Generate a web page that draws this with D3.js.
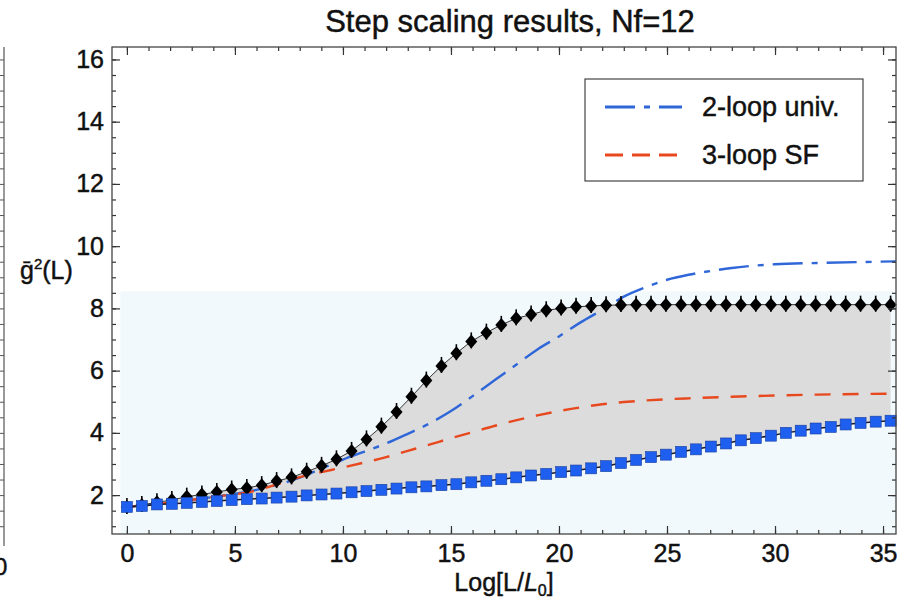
<!DOCTYPE html>
<html>
<head>
<meta charset="utf-8">
<script src="https://cdn.jsdelivr.net/npm/d3@7"></script>
<style>
  body { margin: 0; background: #fff; }
  text { font-family: "Liberation Sans", Arial, sans-serif; fill: #111; stroke: #111; stroke-width: 0.45px; }
</style>
</head>
<body>
<div id="chart"></div>
<script>
// step scaling data, Nf=12
var logL = [0, 0.69, 1.39, 2.08, 2.77, 3.47, 4.16, 4.85, 5.55, 6.24, 6.93, 7.62, 8.32, 9.01, 9.70,
  10.40, 11.09, 11.78, 12.48, 13.17, 13.86, 14.56, 15.25, 15.94, 16.64, 17.33, 18.02, 18.71, 19.41,
  20.10, 20.79, 21.49, 22.18, 22.87, 23.57, 24.26, 24.95, 25.65, 26.34, 27.03, 27.73, 28.42, 29.11,
  29.81, 30.50, 31.19, 31.88, 32.58, 33.27, 33.96, 34.66, 35.35];

// upper branch (black diamonds)
var upperG2 = [1.62, 1.68, 1.77, 1.84, 1.95, 2.02, 2.10, 2.18, 2.23, 2.32, 2.45, 2.57, 2.75, 2.94, 3.15,
  3.42, 3.79, 4.20, 4.67, 5.16, 5.68, 6.15, 6.56, 6.94, 7.22, 7.47, 7.68, 7.80, 7.94, 8.00, 8.05, 8.08,
  8.10, 8.11, 8.12, 8.12, 8.12, 8.12, 8.12, 8.12, 8.12, 8.12, 8.12, 8.12, 8.12, 8.12, 8.12, 8.12, 8.12,
  8.12, 8.12, 8.12];

// lower branch (blue squares)
var lowerG2 = [1.62, 1.65, 1.70, 1.72, 1.75, 1.78, 1.81, 1.84, 1.87, 1.89, 1.92, 1.95, 1.99, 2.02, 2.05,
  2.09, 2.13, 2.17, 2.21, 2.25, 2.28, 2.32, 2.35, 2.41, 2.46, 2.51, 2.57, 2.63, 2.68, 2.74, 2.79, 2.86,
  2.93, 3.03, 3.13, 3.22, 3.30, 3.39, 3.47, 3.56, 3.66, 3.76, 3.83, 3.91, 4.00, 4.07, 4.14, 4.19, 4.27,
  4.32, 4.36, 4.39];

// 2-loop universal curve
var twoLoopX = [0, 2, 4, 6, 8, 9, 10, 11, 12, 13, 14, 15, 16, 17, 18, 19, 20, 21, 22, 23, 24, 25, 26,
  27, 28, 29, 30, 32, 34, 35.6];
var twoLoopY = [1.62, 1.76, 1.94, 2.17, 2.56, 2.85, 3.14, 3.40, 3.66, 3.97, 4.30, 4.70, 5.18, 5.68,
  6.18, 6.68, 7.10, 7.55, 7.95, 8.38, 8.68, 8.92, 9.08, 9.20, 9.30, 9.37, 9.42, 9.46, 9.49, 9.51];

// 3-loop SF curve
var threeLoopX = [0, 2, 4, 6, 7, 8, 9, 10, 11, 12, 13, 14, 15, 16, 17, 18, 19, 20, 21, 22, 23, 24,
  25, 26, 28, 30, 32, 35.6];
var threeLoopY = [1.62, 1.76, 1.94, 2.15, 2.36, 2.58, 2.74, 2.89, 3.05, 3.22, 3.42, 3.62, 3.83, 4.02,
  4.22, 4.40, 4.56, 4.70, 4.82, 4.92, 4.99, 5.04, 5.08, 5.11, 5.16, 5.20, 5.23, 5.26];

// pale blue band behind the data
var bandX = [-0.3, 35.6];
var bandY = [0.75, 8.55];

var xTickLabels = [0, 5, 10, 15, 20, 25, 30, 35];
var yTickLabels = [2, 4, 6, 8, 10, 12, 14, 16];
var legendNames = ["2-loop univ.", "3-loop SF"];

//---------------------------------------------------------------------------//

var svgWidth = 910, svgHeight = 599;
var frame = { left: 112, right: 896, top: 47, bottom: 534 };

var svg = d3.select("#chart").append("svg")
  .attr("width", svgWidth)
  .attr("height", svgHeight);

var x = d3.scaleLinear().domain([-0.69, 35.6]).range([frame.left, frame.right]);
var y = d3.scaleLinear().domain([0.75, 16.4]).range([frame.bottom, frame.top]);

// piece of the neighbouring panel on the far left
var nb = svg.append("g").attr("transform", "translate(4,0)");
nb.append("line").attr("x1", 0).attr("x2", 0).attr("y1", 47).attr("y2", 546)
  .attr("stroke", "#555").attr("stroke-width", 1.2);
nb.call(d3.axisLeft(y).tickValues(d3.range(1, 16.5, 0.5)).tickSize(5).tickFormat(""))
  .call(g => g.select(".domain").remove())
  .selectAll("line").attr("stroke", "#555");
svg.append("text").attr("x", -6).attr("y", 575).style("font-size", "24px").text("0");

// background band
svg.append("rect")
  .attr("x", x(bandX[0])).attr("width", x(bandX[1]) - x(bandX[0]))
  .attr("y", y(bandY[1])).attr("height", y(bandY[0]) - y(bandY[1]))
  .attr("fill", "#f1f9fd");

// grey band between the two branches
var pts = logL.map((d, i) => ({ x: d, hi: upperG2[i], lo: lowerG2[i] }));
svg.append("path").datum(pts)
  .attr("fill", "#dcdcdc")
  .attr("d", d3.area().x(d => x(d.x)).y0(d => y(d.lo)).y1(d => y(d.hi)));

// theory curves
var line = d3.line().curve(d3.curveMonotoneX).x(d => x(d[0])).y(d => y(d[1]));
svg.append("path").datum(twoLoopX.map((d, i) => [d, twoLoopY[i]]))
  .attr("fill", "none").attr("stroke", "#2f66d8").attr("stroke-width", 2.4)
  .attr("stroke-dasharray", "30,9,6,9")
  .attr("d", line);
svg.append("path").datum(threeLoopX.map((d, i) => [d, threeLoopY[i]]))
  .attr("fill", "none").attr("stroke", "#e8481e").attr("stroke-width", 2.4)
  .attr("stroke-dasharray", "16,12")
  .attr("d", line);

// upper branch: thin line, error bars, diamonds
var linePts = d3.line().x(d => x(d.x)).y(d => y(d.v));
svg.append("path").datum(pts.map(d => ({ x: d.x, v: d.hi })))
  .attr("fill", "none").attr("stroke", "#333").attr("stroke-width", 1)
  .attr("d", linePts);
var dia = svg.append("g").selectAll("g").data(pts).enter().append("g")
  .attr("transform", d => `translate(${x(d.x)},${y(d.hi)})`);
dia.append("line").attr("y1", -9).attr("y2", 7).attr("stroke", "#000").attr("stroke-width", 1.6);
dia.append("path").attr("d", "M0,-7L6,0L0,7L-6,0Z").attr("fill", "#000");

// lower branch: line and squares
svg.append("path").datum(pts.map(d => ({ x: d.x, v: d.lo })))
  .attr("fill", "none").attr("stroke", "#1a1a2a").attr("stroke-width", 1.5)
  .attr("d", linePts);
svg.append("g").selectAll("rect").data(pts).enter().append("rect")
  .attr("x", d => x(d.x) - 5.5).attr("y", d => y(d.lo) - 5.5)
  .attr("width", 11).attr("height", 11)
  .attr("fill", "#1f5ff0").attr("stroke", "#1a3f9c").attr("stroke-width", 0.6);

// frame with inward ticks on all four sides
function styleAxis(g) {
  g.select(".domain").remove();
  g.selectAll("line").attr("stroke", "#333").attr("stroke-width", 1.2);
}
var xMinor = d3.range(0, 36, 1);
var yMinor = d3.range(1, 16.5, 0.5);
svg.append("g").attr("transform", `translate(0,${frame.bottom})`)
  .call(d3.axisBottom(x).tickValues(xMinor).tickSize(-4).tickFormat("")).call(styleAxis);
svg.append("g").attr("transform", `translate(0,${frame.top})`)
  .call(d3.axisTop(x).tickValues(xMinor).tickSize(-4).tickFormat("")).call(styleAxis);
svg.append("g").attr("transform", `translate(${frame.left},0)`)
  .call(d3.axisLeft(y).tickValues(yMinor).tickSize(-4).tickFormat("")).call(styleAxis);
svg.append("g").attr("transform", `translate(${frame.right},0)`)
  .call(d3.axisRight(y).tickValues(yMinor).tickSize(-4).tickFormat("")).call(styleAxis);

var bottomAxis = svg.append("g").attr("transform", `translate(0,${frame.bottom})`)
  .call(d3.axisBottom(x).tickValues(xTickLabels).tickSize(-8).tickPadding(10)).call(styleAxis);
bottomAxis.selectAll("text").style("font-size", "25px").attr("fill", "#111");
svg.append("g").attr("transform", `translate(0,${frame.top})`)
  .call(d3.axisTop(x).tickValues(xTickLabels).tickSize(-8).tickFormat("")).call(styleAxis);
var leftAxis = svg.append("g").attr("transform", `translate(${frame.left},0)`)
  .call(d3.axisLeft(y).tickValues(yTickLabels).tickSize(-8).tickPadding(8)).call(styleAxis);
leftAxis.selectAll("text").style("font-size", "25px").attr("fill", "#111");
svg.append("g").attr("transform", `translate(${frame.right},0)`)
  .call(d3.axisRight(y).tickValues(yTickLabels).tickSize(-8).tickFormat("")).call(styleAxis);

svg.append("rect")
  .attr("x", frame.left).attr("y", frame.top)
  .attr("width", frame.right - frame.left).attr("height", frame.bottom - frame.top)
  .attr("fill", "none").attr("stroke", "#444").attr("stroke-width", 1.3);

// title and axis labels
svg.append("text").attr("x", 510).attr("y", 32).attr("text-anchor", "middle")
  .style("font-size", "31px").text("Step scaling results, Nf=12");

var xl = svg.append("text").attr("x", 504).attr("y", 591).attr("text-anchor", "middle")
  .style("font-size", "25px");
xl.append("tspan").text("Log[L/");
xl.append("tspan").style("font-style", "italic").text("L");
xl.append("tspan").attr("dy", 5).style("font-size", "16px").text("0");
xl.append("tspan").attr("dy", -5).text("]");

var yl = svg.append("text").attr("x", 20).attr("y", 279).style("font-size", "25px");
yl.append("tspan").text("\u1E21");
yl.append("tspan").attr("dy", -10).style("font-size", "15px").text("2");
yl.append("tspan").attr("dy", 10).text("(L)");

// legend
var legend = svg.append("g");
legend.append("rect").attr("x", 585).attr("y", 79).attr("width", 278).attr("height", 102)
  .attr("fill", "#fff").attr("stroke", "#444").attr("stroke-width", 1.2);
var legendStyles = [
  { color: "#2f66d8", dash: "30,9,6,9" },
  { color: "#e8481e", dash: "18,9" }
];
legendNames.forEach(function(name, i) {
  var ly = 107 + i * 48;
  legend.append("line").attr("x1", 605).attr("x2", 682).attr("y1", ly).attr("y2", ly)
    .attr("stroke", legendStyles[i].color).attr("stroke-width", 2.8)
    .attr("stroke-dasharray", legendStyles[i].dash);
  legend.append("text").attr("x", 702).attr("y", ly + 9).style("font-size", "27px").text(name);
});
</script>
</body>
</html>
